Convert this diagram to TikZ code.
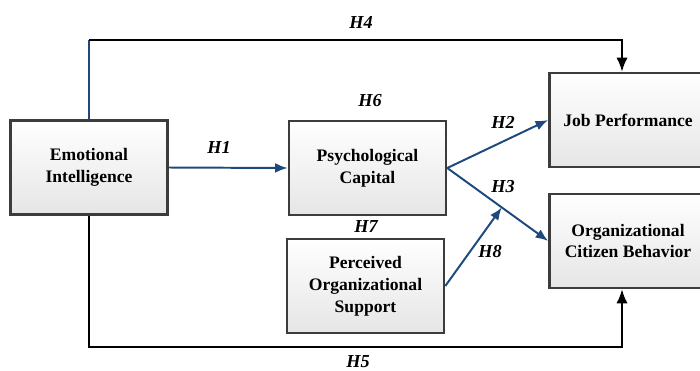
\documentclass[tikz,border=0pt]{standalone}
\usepackage{fontspec}
\setmainfont{Liberation Serif}
\usetikzlibrary{arrows.meta,calc}
\definecolor{navy}{RGB}{31,73,125}
\definecolor{boxline}{RGB}{60,60,60}
\tikzset{
  var/.style={draw=boxline,line width=1.8pt,top color=white,bottom color=black!10,
    minimum width=3.925cm,minimum height=2.35cm,align=center,
    font=\fontsize{12.5}{15.5}\selectfont\bfseries},
  hyp/.style={font=\fontsize{13}{15}\selectfont\bfseries\itshape},
  blu/.style={navy,line width=1.4pt,-{Latex[length=9pt,width=7pt]}},
  blk/.style={black,line width=1.4pt,-{Latex[length=10pt,width=8pt]}}
}
\begin{document}
\begin{tikzpicture}[x=0.025cm,y=-0.025cm]
\useasboundingbox (0,0) rectangle (700,370);
\clip (0,0) rectangle (700,370);
% variables
\node[var] (ei) at (89,167.5) {Emotional\\Intelligence};
\node[var] (pc) at (367.5,168) {Psychological\\Capital};
\node[var] (pos) at (365.5,286) {Perceived\\Organizational\\Support};
\node[var] (jp) at (628,120) {Job Performance};
\node[var] (ocb) at (628,241) {Organizational\\Citizen Behavior};
\coordinate (top) at (0,40);
\coordinate (bot) at (0,347);
\coordinate (m) at ($(pc.east)!0.54!(ocb.west)$);
% paths
\draw[blu] (ei.east) -- (pc.west);
\draw[blu] (pc.east) -- (jp.west);
\draw[blu] (pc.east) -- (ocb.west);
\draw[blu] (pos.east) -- (m);
\draw[navy,line width=1.4pt] (ei.north) -- (ei.north |- top);
\draw[blk] (ei.north |- top) -| ([xshift=-0.15cm]jp.north);
\draw[blk] (ei.south) -- (ei.south |- bot) -| ([xshift=-0.15cm]ocb.south);
% labels
\node[hyp] (lh1) at (219,147) {H1};
\node[hyp] (lh2) at (503,122) {H2};
\node[hyp] (lh3) at (503,187) {H3};
\node[hyp] (lh4) at (361,22) {H4};
\node[hyp] (lh5) at (358,362) {H5};
\node[hyp] (lh6) at (370,101) {H6};
\node[hyp] (lh7) at (366,227) {H7};
\node[hyp] (lh8) at (490,252) {H8};
\end{tikzpicture}
\end{document}
